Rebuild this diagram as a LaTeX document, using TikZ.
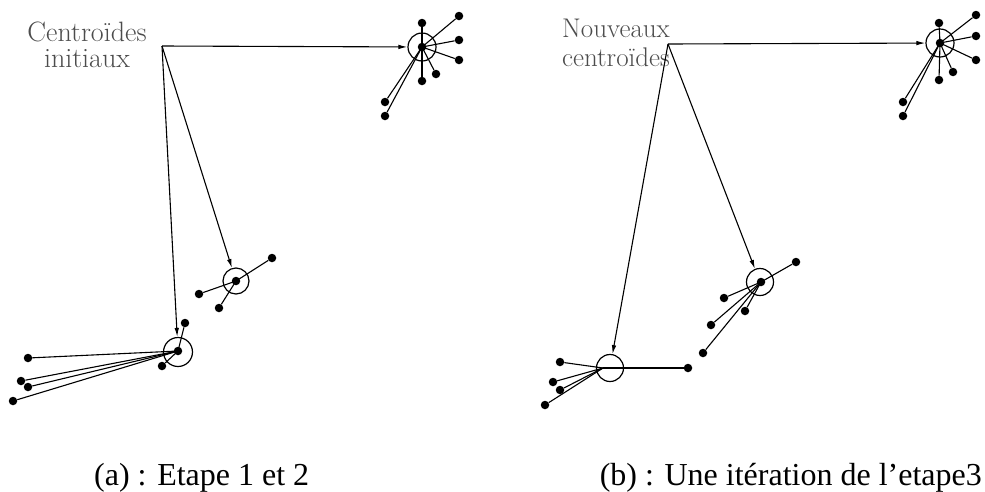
\documentclass[tikz,border=0pt]{standalone}
\usepackage{fontspec}
\newfontfamily\capfont{Liberation Serif}
\usetikzlibrary{arrows.meta}
\begin{document}
\begin{tikzpicture}[x=1pt,y=-1pt,
  dot/.style={circle,fill=black,inner sep=0pt,minimum size=8.5pt},
  ring/.style={circle,draw=black,line width=1.2pt,inner sep=0pt,minimum size=28pt},
  link/.style={line width=1.1pt},
  arr/.style={line width=1.1pt,-{Latex[length=9pt,width=4.5pt]}},
  lbl/.style={font=\fontsize{28}{28}\selectfont,text=black!70,inner sep=0pt,anchor=base},
  capt/.style={font=\capfont\fontsize{32}{34}\selectfont,inner sep=0pt}]
\useasboundingbox (0,0) rectangle (985,491);
% ---------- panel (a) ----------
\node[lbl] (la1) at (87,41) {Centro\"ides};
\node[lbl] (la2) at (87,67) {initiaux};
\coordinate (sa) at (162,46);
% top-right cluster
\coordinate (a1c) at (422,47);
\node[ring] (a1r) at (422,47) {};
\node[dot] (a1d) at (422,47) {};
\node[dot] (a1p1) at (422,23) {};
\node[dot] (a1p2) at (459,16) {};
\node[dot] (a1p3) at (459,40) {};
\node[dot] (a1p4) at (459,60) {};
\node[dot] (a1p5) at (436,74) {};
\node[dot] (a1p6) at (422,81) {};
\node[dot] (a1p7) at (385,102) {};
\node[dot] (a1p8) at (385,116) {};
\foreach \p in {a1p1,a1p2,a1p3,a1p4,a1p5,a1p6,a1p7,a1p8} \draw[link] (a1c) -- (\p);
% middle cluster
\coordinate (a2c) at (236,281);
\node[ring,minimum size=26pt] (a2r) at (236,281) {};
\node[dot] (a2d) at (236,281) {};
\node[dot] (a2p1) at (272,258) {};
\node[dot] (a2p2) at (199,294) {};
\node[dot] (a2p3) at (219,308) {};
\foreach \p in {a2p1,a2p2,a2p3} \draw[link] (a2c) -- (\p);
% bottom cluster
\coordinate (a3c) at (178,351);
\node[ring,minimum size=29pt] (a3r) at (178,352) {};
\node[dot] (a3d) at (178,351) {};
\node[dot] (a3p1) at (185,323) {};
\node[dot] (a3p2) at (162,366) {};
\node[dot] (a3p3) at (28,358) {};
\node[dot] (a3p4) at (21,381) {};
\node[dot] (a3p5) at (28,387) {};
\node[dot] (a3p6) at (13,401) {};
\foreach \p in {a3p1,a3p2,a3p3,a3p4,a3p5,a3p6} \draw[link] (a3c) -- (\p);
% arrows
\draw[arr] (sa) -- (a1r);
\draw[arr] (sa) -- (a2r);
\draw[arr] (sa) -- (a3r);
% ---------- panel (b) ----------
\node[lbl,font=\fontsize{27}{27}\selectfont] (lb1) at (616,37) {Nouveaux};
\node[lbl,font=\fontsize{27}{27}\selectfont] (lb2) at (616,66) {centro\"ides};
\coordinate (sb) at (668,44);
% top-right cluster
\coordinate (b1c) at (940,43);
\node[ring] (b1r) at (940,43) {};
\node[dot] (b1d) at (940,43) {};
\node[dot] (b1p1) at (939,23) {};
\node[dot] (b1p2) at (976,15) {};
\node[dot] (b1p3) at (976,36) {};
\node[dot] (b1p4) at (976,60) {};
\node[dot] (b1p5) at (953,72) {};
\node[dot] (b1p6) at (939,80) {};
\node[dot] (b1p7) at (903,102) {};
\node[dot] (b1p8) at (903,116) {};
\foreach \p in {b1p1,b1p2,b1p3,b1p4,b1p5,b1p6,b1p7,b1p8} \draw[link] (b1c) -- (\p);
% middle cluster
\coordinate (b2c) at (761,282);
\node[ring,minimum size=27pt] (b2r) at (760,282) {};
\node[dot] (b2d) at (761,282) {};
\node[dot] (b2p1) at (796,262) {};
\node[dot] (b2p2) at (724,298) {};
\node[dot] (b2p3) at (745,311) {};
\node[dot] (b2p4) at (711,325) {};
\node[dot] (b2p5) at (703,353) {};
\foreach \p in {b2p1,b2p2,b2p3,b2p4,b2p5} \draw[link] (b2c) -- (\p);
% bottom cluster
\coordinate (b3c) at (603,368);
\node[ring,minimum size=27pt] (b3r) at (610,368) {};
\node[dot] (b3p1) at (560,362) {};
\node[dot] (b3p2) at (553,382) {};
\node[dot] (b3p3) at (560,390) {};
\node[dot] (b3p4) at (545,405) {};
\node[dot] (b3p5) at (688,368) {};
\foreach \p in {b3p1,b3p2,b3p3,b3p4,b3p5} \draw[link] (b3c) -- (\p);
% arrows
\draw[arr] (sb) -- (b1r);
\draw[arr] (sb) -- (b2r);
\draw[arr] (sb) -- (b3r);
% ---------- captions ----------
\node[capt,anchor=base west] (capa) at (94,485) {(a) : Etape 1 et 2};
\node[capt,anchor=base east] (capb) at (982,485) {(b) : Une itération de l’etape3};
\end{tikzpicture}
\end{document}
